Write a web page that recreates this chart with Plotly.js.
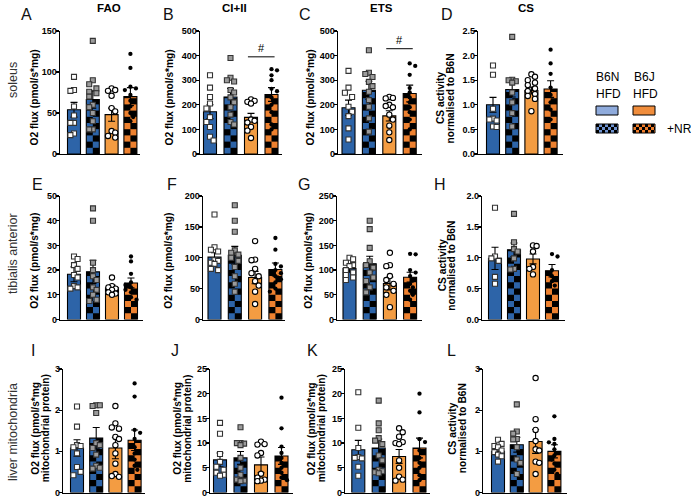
<!DOCTYPE html>
<html><head><meta charset="utf-8">
<script src="https://cdn.plot.ly/plotly-3.0.1.min.js"></script>
<style>body{margin:0;background:#fff}#chart{width:691px;height:498px}</style>
</head><body><div id="chart"></div>
<script>
// ---------------- DATA ----------------
const groups = ['B6N HFD', 'B6N HFD+NR', 'B6J HFD', 'B6J HFD+NR'];
const panelLetters = ['A','B','C','D','E','F','G','H','I','J','K','L'];
const columnTitles = ['FAO','CI+II','ETS','CS'];
const rowLabels = ['soleus','tibialis anterior','liver mitochondria'];
const yTitleMuscle = ['O2 flux (pmol/s*mg)'];
const yTitleLiver = ['O2 flux (pmol/s*mg', 'mitochondrial protein)'];
const yTitleCS = ['CS activity', 'normalised to B6N'];
const legendStrains = ['B6N','B6J'];
const legendDiet = 'HFD';
const legendTreatment = '+NR';

const yMax  = [150, 500, 500, 2.5, 50, 200, 250, 2.0, 3, 25, 25, 3];
const yStep = [50, 100, 100, 0.5, 10, 50, 50, 0.5, 1, 5, 5, 1];

const meanA = [54, 66.5, 48, 70];      const semA = [9, 10.5, 8, 11];
const meanB = [172, 232, 149, 242];    const semB = [28, 34, 16, 28];
const meanC = [188, 259, 155, 246];    const semC = [31, 37, 21, 34];
const meanD = [1.0, 1.31, 1.29, 1.32]; const semD = [0.15, 0.15, 0.07, 0.17];
const meanE = [18.3, 19.3, 12.8, 14.8]; const semE = [3.0, 4.7, 1.1, 2.0];
const meanF = [101, 104, 68, 81];      const semF = [7, 14.5, 10, 10.5];
const meanG = [103, 113, 73, 85.6];    const semG = [7, 15, 13, 10];
const meanH = [0.99, 1.13, 0.98, 0.79]; const semH = [0.18, 0.11, 0.08, 0.10];
const meanI = [1.08, 1.32, 1.08, 1.27]; const semI = [0.2, 0.26, 0.26, 0.25];
const meanJ = [6.6, 7.0, 5.6, 7.4];    const semJ = [1.4, 1.3, 1.6, 1.7];
const meanK = [8.65, 9.0, 7.3, 9.0];   const semK = [1.9, 1.8, 1.4, 2.0];
const meanL = [1.0, 1.16, 1.24, 1.0];  const semL = [0.08, 0.18, 0.29, 0.16];

const ptsA = [[94, 78, 77, 58, 47, 38, 38, 25, 23],
              [138, 90, 85, 80, 76, 74, 70, 60, 57, 50, 40, 30, 30],
              [80, 78, 77, 71, 56, 52, 28, 26, 22, 20],
              [122, 105, 82, 80, 78, 72, 65, 58, 50, 45, 40, 35]];
const ptsB = [[320, 270, 232, 205, 185, 150, 130, 110, 70, 55],
              [390, 310, 300, 295, 260, 250, 230, 210, 190, 160, 130, 120],
              [222, 216, 212, 205, 140, 135, 128, 110, 95, 65],
              [345, 340, 320, 300, 265, 255, 230, 200, 170, 120, 100]];
const ptsC = [[338, 270, 249, 232, 192, 172, 154, 104, 59],
              [422, 330, 325, 313, 293, 276, 253, 219, 192, 145, 91],
              [232, 228, 226, 200, 195, 190, 160, 140, 115, 88, 57],
              [368, 358, 322, 268, 250, 230, 210, 190, 170, 140, 100]];
const ptsD = [[1.80, 1.61, 0.92, 0.72, 0.70, 0.68, 0.56, 0.55],
              [2.38, 1.51, 1.50, 1.48, 1.45, 1.25, 1.05, 0.83, 0.56],
              [1.62, 1.57, 1.50, 1.45, 1.40, 1.33, 1.28, 1.22, 1.18, 1.12, 0.87],
              [2.12, 1.84, 1.63, 1.35, 1.20, 1.05, 0.90, 0.70]];
const ptsE = [[25.5, 24.5, 22, 20.5, 18, 17, 13.5, 13, 12.5],
              [45, 40, 23, 20, 17.5, 16, 13, 12, 10, 8, 7.5],
              [17, 13.5, 13, 12.5, 12, 11, 10.5, 10],
              [25.5, 23.5, 18.5, 15, 14, 13, 12, 11, 9, 8]];
const ptsF = [[170, 117, 113, 110, 96, 92, 95, 90, 82, 80],
              [185, 160, 142, 112, 108, 105, 100, 95, 85, 70, 58, 45],
              [127, 97, 96, 82, 75, 70, 62, 55, 45, 25],
              [132, 113, 90, 86, 80, 75, 70, 65, 60, 50, 45]];
const ptsG = [[125, 122, 115, 110, 108, 100, 95, 90, 85, 80],
              [200, 183, 145, 118, 110, 105, 95, 85, 78, 65, 55],
              [135, 110, 108, 88, 80, 72, 65, 58, 50, 25],
              [133, 132, 100, 95, 88, 80, 72, 65, 58, 50, 40]];
const ptsH = [[1.81, 1.02, 0.99, 0.95, 0.69, 0.58],
              [1.71, 1.25, 1.14, 1.10, 0.99, 0.82, 0.81],
              [1.20, 1.19, 1.10, 0.85, 0.82, 0.73],
              [1.06, 1.02, 0.80, 0.70, 0.62, 0.55]];
const ptsI = [[2.09, 1.60, 1.15, 1.13, 1.10, 0.95, 0.62, 0.50, 0.42],
              [2.12, 2.12, 2.10, 1.93, 1.20, 1.15, 1.08, 0.92, 0.65, 0.60, 0.58],
              [2.10, 1.68, 1.58, 1.55, 1.35, 1.30, 1.15, 0.95, 0.70, 0.45, 0.40, 0.38],
              [2.65, 2.33, 1.52, 1.45, 1.30, 1.10, 0.95, 0.80, 0.65, 0.55]];
const ptsJ = [[14.1, 11.9, 7.8, 6.2, 5.2, 4.6, 4.0, 3.6, 3.4],
              [13.2, 10.0, 10.0, 9.9, 9.6, 7.0, 5.0, 3.6, 2.6, 2.4, 2.3],
              [10.3, 9.8, 9.7, 8.0, 7.5, 3.8, 3.0, 2.6, 2.4, 2.3],
              [19.2, 13.0, 9.3, 8.0, 7.0, 6.0, 5.0, 4.0, 3.0, 2.5]];
const ptsK = [[20.3, 13.1, 9.0, 7.2, 7.0, 6.9, 5.2, 3.4],
              [18.6, 14.0, 12.6, 11.0, 10.5, 9.8, 7.5, 6.5, 4.6, 4.3, 4.1, 3.9],
              [13.0, 12.2, 11.3, 10.2, 10.0, 9.8, 6.5, 5.0, 3.2, 2.6, 2.4],
              [20.0, 16.2, 10.8, 10.2, 8.5, 7.0, 6.0, 5.0, 3.5, 2.5]];
const ptsL = [[1.28, 1.18, 1.13, 1.10, 1.02, 0.98, 0.92, 0.88, 0.75],
              [2.14, 1.48, 1.43, 1.30, 1.29, 1.10, 0.80, 0.72, 0.45],
              [2.78, 1.78, 1.52, 1.25, 1.05, 1.02, 0.75, 0.72, 0.45],
              [1.85, 1.30, 1.22, 1.18, 1.05, 0.90, 0.80, 0.70, 0.55, 0.45]];

// significance (#) between B6J HFD and B6J HFD+NR
const sigPanels = [1, 2];          // panel B and C
const sigLevel  = [395, 428];

// ---------------- STYLE / GEOMETRY ----------------
const W = 691, H = 498;
const FONT = 'Liberation Sans, Arial, Helvetica, sans-serif';
const BLUE = '#2d64a8', OR1 = '#f39c42', OR2 = '#ee812f';
const barFill = [BLUE, BLUE, OR1, OR2];
const checkered = [false, true, false, true];
const rowPx = [[31, 154], [196, 319.5], [369, 492.5]];
// [axis left px, axis right px, first bar center px, spacing px]
const geom = [
  [60, 140, 74, 18.8], [200, 282, 210, 20.5], [338, 422, 348.5, 20.4], [478, 563, 493, 19.2],
  [60, 143, 74, 19], [203, 285, 214.5, 20.3], [337, 422, 349.5, 20.2], [482, 565, 495, 19],
  [63, 145, 77, 19.2], [210, 293, 220, 20.5], [345, 430, 358.3, 20.4], [483, 567, 498, 18.8]
];
// x centre (px) of each y-title line
const yTitleX = [[34],[169],[310],[440.5,450],[35],[169],[309],[442.5,452],[36,45.5],[178,188],[311.5,321.5],[453,462.5]];
const yTitleDy = [5, 5, 5, 6, 3, 3, 3, 8, -2, -2, -2, -2];
const letterPos = [[27,14],[168,14],[305,14],[447,14],[37,185],[172,185],[304,185],[440,185],[33,350],[175,350],[312,350],[451,350]];
const titlePos = [[109,8],[234,8],[381,8],[526,8]];
const BAR_PX = 13, CELL_PX = 6.2;

const means = [meanA,meanB,meanC,meanD,meanE,meanF,meanG,meanH,meanI,meanJ,meanK,meanL];
const sems  = [semA,semB,semC,semD,semE,semF,semG,semH,semI,semJ,semK,semL];
const pts   = [ptsA,ptsB,ptsC,ptsD,ptsE,ptsF,ptsG,ptsH,ptsI,ptsJ,ptsK,ptsL];

const markerStyle = [
  {symbol:'square', size:5, color:'#ffffff', line:{color:'#333', width:1.1}},
  {symbol:'square', size:5, color:'#9b9b9b', line:{color:'#333', width:1.1}},
  {symbol:'circle', size:5.3, color:'#ffffff', line:{color:'#000', width:1.1}},
  {symbol:'circle', size:4.3, color:'#000000', line:{color:'#000', width:0}}
];
const markerDiam = [6, 6, 6, 4.6];
const MAX_OFF_PX = 7;

const px2x = p => p / W;
const px2y = p => 1 - p / H;

function swarm(vals, pxY, pxX, d) {
  const idx = vals.map((v, i) => i).sort((a, b) => vals[b] - vals[a]);
  const placed = [];
  const off = new Array(vals.length).fill(0);
  const step = d * 0.6;
  idx.forEach((i, n) => {
    const y = vals[i] * pxY;
    let chosen = null, bestC = 0, bestD = -1;
    for (let k = 0; k * step <= MAX_OFF_PX; k++) {
      const cands = k === 0 ? [0] : (n % 2 ? [k * step, -k * step] : [-k * step, k * step]);
      for (const c of cands) {
        const md = placed.reduce((m, p) => Math.min(m, Math.hypot(p.x - c, p.y - y)), 1e9);
        if (md >= d * 0.95) { chosen = c; break; }
        if (md > bestD) { bestD = md; bestC = c; }
      }
      if (chosen !== null) break;
    }
    if (chosen === null) chosen = bestC;
    placed.push({x: chosen, y});
    off[i] = chosen / pxX;
  });
  return off;
}

const data = [];
const layout = {
  width: W, height: H, margin: {l:0, r:0, t:0, b:0},
  paper_bgcolor: '#fff', plot_bgcolor: 'rgba(0,0,0,0)',
  barmode: 'overlay', showlegend: false,
  font: {family: FONT, color: '#000'},
  annotations: [], shapes: []
};

for (let i = 0; i < 12; i++) {
  const s = i === 0 ? '' : String(i + 1);
  const xa = 'x' + s, ya = 'y' + s;
  const row = Math.floor(i / 4), col = i % 4;
  const [axL, axR, c0, sp] = geom[i];
  const [topPx, zeroPx] = rowPx[row];
  const plotH = zeroPx - topPx;
  const pxY = plotH / yMax[i];
  const bw = BAR_PX / sp;
  const xs = [0, 1, 2, 3];

  layout['xaxis' + s] = {
    domain: [px2x(axL), px2x(axR)], range: [(axL - c0) / sp, (axR - c0) / sp],
    anchor: ya, showline: true, linecolor: '#000', linewidth: 1.3,
    showticklabels: false, ticks: '', showgrid: false, zeroline: false, fixedrange: true
  };
  const tv = [];
  for (let v = 0; v <= yMax[i] + 1e-9; v += yStep[i]) tv.push(+v.toFixed(3));
  layout['yaxis' + s] = {
    domain: [px2y(zeroPx), px2y(topPx)], range: [0, yMax[i]], anchor: xa,
    showline: true, linecolor: '#000', linewidth: 1.3,
    ticks: 'outside', ticklen: 3, tickwidth: 1.3, tickcolor: '#000',
    ticklabelstandoff: -3,
    tickvals: tv, ticktext: tv.map(v => (yStep[i] < 1 ? v.toFixed(1) : String(v))),
    tickfont: {family: FONT, size: 9, color: '#000', weight: 'bold'},
    showgrid: false, zeroline: false, fixedrange: true
  };

  // main bars
  data.push({type:'bar', x: xs, y: means[i], width: bw, xaxis: xa, yaxis: ya,
    marker: {color: barFill, line: {width: 0}}, hoverinfo: 'skip'});

  // checkerboard cells for +NR bars
  const cx = [], cy = [], cb = [], cw = [];
  const cellH = CELL_PX / pxY;
  for (let g = 0; g < 4; g++) {
    if (!checkered[g]) continue;
    const m = means[i][g];
    for (let r = 0; r * cellH < m - 1e-9; r++) {
      const base = r * cellH, h = Math.min(cellH, m - base);
      for (let c = 0; c < 2; c++) {
        if ((r + c) % 2 === 1) {
          cx.push(g + (c - 0.5) * bw / 2); cy.push(h); cb.push(base); cw.push(bw / 2);
        }
      }
    }
  }
  data.push({type:'bar', x: cx, y: cy, base: cb, width: cw, xaxis: xa, yaxis: ya,
    marker: {color: '#000', line: {width: 0}}, hoverinfo: 'skip'});

  // outlines + SEM
  data.push({type:'bar', x: xs, y: means[i], width: bw, xaxis: xa, yaxis: ya,
    marker: {color: 'rgba(0,0,0,0)', line: {color: '#000', width: 1.1}},
    error_y: {type: 'data', array: sems[i], color: '#000', thickness: 1.1, width: 3.5},
    hoverinfo: 'skip'});

  // individual points
  for (let g = 0; g < 4; g++) {
    const off = swarm(pts[i][g], pxY, sp, markerDiam[g]);
    data.push({type:'scatter', mode:'markers', xaxis: xa, yaxis: ya, name: groups[g],
      x: pts[i][g].map((v, k) => g + off[k]), y: pts[i][g],
      marker: markerStyle[g], cliponaxis: false, hoverinfo: 'skip'});
  }

  // panel letter
  layout.annotations.push({text: panelLetters[i], xref:'paper', yref:'paper',
    x: px2x(letterPos[i][0]), y: px2y(letterPos[i][1]), xanchor:'center', yanchor:'middle',
    showarrow:false, font:{family: FONT, size: 16, color:'#111'}});

  // y title (one annotation per line)
  const yt = col === 3 ? yTitleCS : (row === 2 ? yTitleLiver : yTitleMuscle);
  yt.forEach((line, li) => layout.annotations.push({text: line, xref:'paper', yref:'paper',
    x: px2x(yTitleX[i][li]), y: px2y((topPx + zeroPx) / 2 + yTitleDy[i]), xanchor:'center', yanchor:'middle',
    textangle: -90, showarrow:false,
    font:{family: FONT, size: 10.2, color:'#000', weight:'bold'}}));
}

// column titles
columnTitles.forEach((t, c) => layout.annotations.push({text: t, xref:'paper', yref:'paper',
  x: px2x(titlePos[c][0]), y: px2y(titlePos[c][1]), xanchor:'center', yanchor:'middle', showarrow:false,
  font:{family: FONT, size: 11.5, color:'#000', weight:'bold'}}));

// row labels
const rowLabelY = [80, 254, 432];
rowLabels.forEach((t, r) => layout.annotations.push({text: t, xref:'paper', yref:'paper',
  x: px2x(13), y: px2y(rowLabelY[r]), xanchor:'center', yanchor:'middle', textangle:-90, showarrow:false,
  font:{family: FONT, size: 12.5, color:'#333'}}));

// significance
sigPanels.forEach((p, k) => {
  const s = String(p + 1);
  layout.shapes.push({type:'line', xref:'x' + s, yref:'y' + s, x0: 1.85, x1: 3.15,
    y0: sigLevel[k], y1: sigLevel[k], line:{color:'#000', width:1}});
  layout.annotations.push({text:'#', xref:'x' + s, yref:'y' + s, x: 2.5, y: sigLevel[k],
    xanchor:'center', yanchor:'bottom', yshift: 1, showarrow:false,
    font:{family: FONT, size: 11, color:'#000'}});
});

// legend (drawn)
const legX = [607, 644], legBoxW = 22;
const legendSolid = ['#8fabdc', '#f08d3c'];
const legendChecker = ['#6f93d0', '#ef7d2a'];
legendStrains.forEach((t, k) => {
  layout.annotations.push({text: t, xref:'paper', yref:'paper', x: px2x(legX[k]), y: px2y(77),
    xanchor:'center', yanchor:'middle', showarrow:false, font:{family: FONT, size: 12, color:'#000'}});
  layout.annotations.push({text: legendDiet, xref:'paper', yref:'paper', x: px2x(legX[k] + 1), y: px2y(94),
    xanchor:'center', yanchor:'middle', showarrow:false, font:{family: FONT, size: 12, color:'#000'}});
  const x0 = legX[k] - legBoxW / 2, x1 = legX[k] + legBoxW / 2;
  layout.shapes.push({type:'rect', xref:'paper', yref:'paper', x0: px2x(x0), x1: px2x(x1),
    y0: px2y(115), y1: px2y(106), fillcolor: legendSolid[k], line:{color:'#000', width:1}});
  layout.shapes.push({type:'rect', xref:'paper', yref:'paper', x0: px2x(x0), x1: px2x(x1),
    y0: px2y(133), y1: px2y(124), fillcolor: legendChecker[k], line:{width:0}});
  const cs = 3;
  for (let r = 0; r < 3; r++) for (let c = 0; c * cs < legBoxW; c++) {
    if ((r + c) % 2) continue;
    layout.shapes.push({type:'rect', xref:'paper', yref:'paper', x0: px2x(x0 + c * cs),
      x1: px2x(Math.min(x1, x0 + (c + 1) * cs)), y0: px2y(124 + (r + 1) * cs), y1: px2y(124 + r * cs),
      fillcolor:'#000', line:{width:0}});
  }
  layout.shapes.push({type:'rect', xref:'paper', yref:'paper', x0: px2x(x0), x1: px2x(x1),
    y0: px2y(133), y1: px2y(124), fillcolor:'rgba(0,0,0,0)', line:{color:'#000', width:1}});
});
layout.annotations.push({text: legendTreatment, xref:'paper', yref:'paper', x: px2x(679), y: px2y(129),
  xanchor:'center', yanchor:'middle', showarrow:false, font:{family: FONT, size: 12, color:'#000'}});

Plotly.newPlot('chart', data, layout, {staticPlot: true, displayModeBar: false});
</script></body></html>
